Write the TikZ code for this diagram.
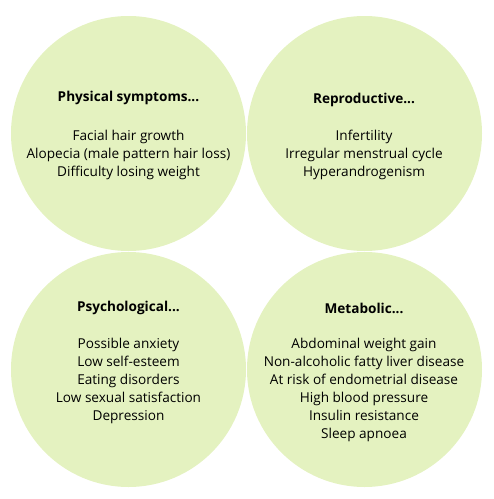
\documentclass[tikz,border=0pt]{standalone}
\usepackage{fontspec}
\setmainfont{Open Sans}
\usepackage{tikz}
\definecolor{palegreen}{RGB}{228,242,192}

\tikzset{
  blob/.style={circle, fill=palegreen, minimum size=235pt, inner sep=0pt},
  heading/.style={font=\fontsize{13.6}{18}\selectfont\bfseries},
  items/.style={align=center, font=\fontsize{13.6}{18}\selectfont}
}

\begin{document}
\begin{tikzpicture}[x=1pt,y=-1pt]
        \useasboundingbox (0,0) rectangle (494,499);
        \node[blob] (phys)  at (128.5,133.5) {};
        \node[blob] (repro) at (364.5,133.5) {};
        \node[blob] (psych) at (128.5,369.5) {};
        \node[blob] (meta)  at (364.5,369.5) {};
        %% headings
        \node[heading] (physhead)  at (128.5, 98) {Physical symptoms...};
        \node[heading] (reprohead) at (364, 99.5) {Reproductive...};
        \node[heading] (psychhead) at (128.5,308) {Psychological...};
        \node[heading] (metahead)  at (364,308) {Metabolic...};
        %% lists
        \node[items] (physlist)  at (128.5,154.5) {Facial hair growth\\Alopecia (male pattern hair loss)\\Difficulty losing weight};
        \node[items] (reprolist) at (364,154.5) {Infertility\\Irregular menstrual cycle\\Hyperandrogenism};
        \node[items] (psychlist) at (128.5,380.5) {Possible anxiety\\Low self-esteem\\Eating disorders\\Low sexual satisfaction\\Depression};
        \node[items] (metalist)  at (364,389.5) {Abdominal weight gain\\Non-alcoholic fatty liver disease\\At risk of endometrial disease\\High blood pressure\\Insulin resistance\\Sleep apnoea};
      \end{tikzpicture}
\end{document}
